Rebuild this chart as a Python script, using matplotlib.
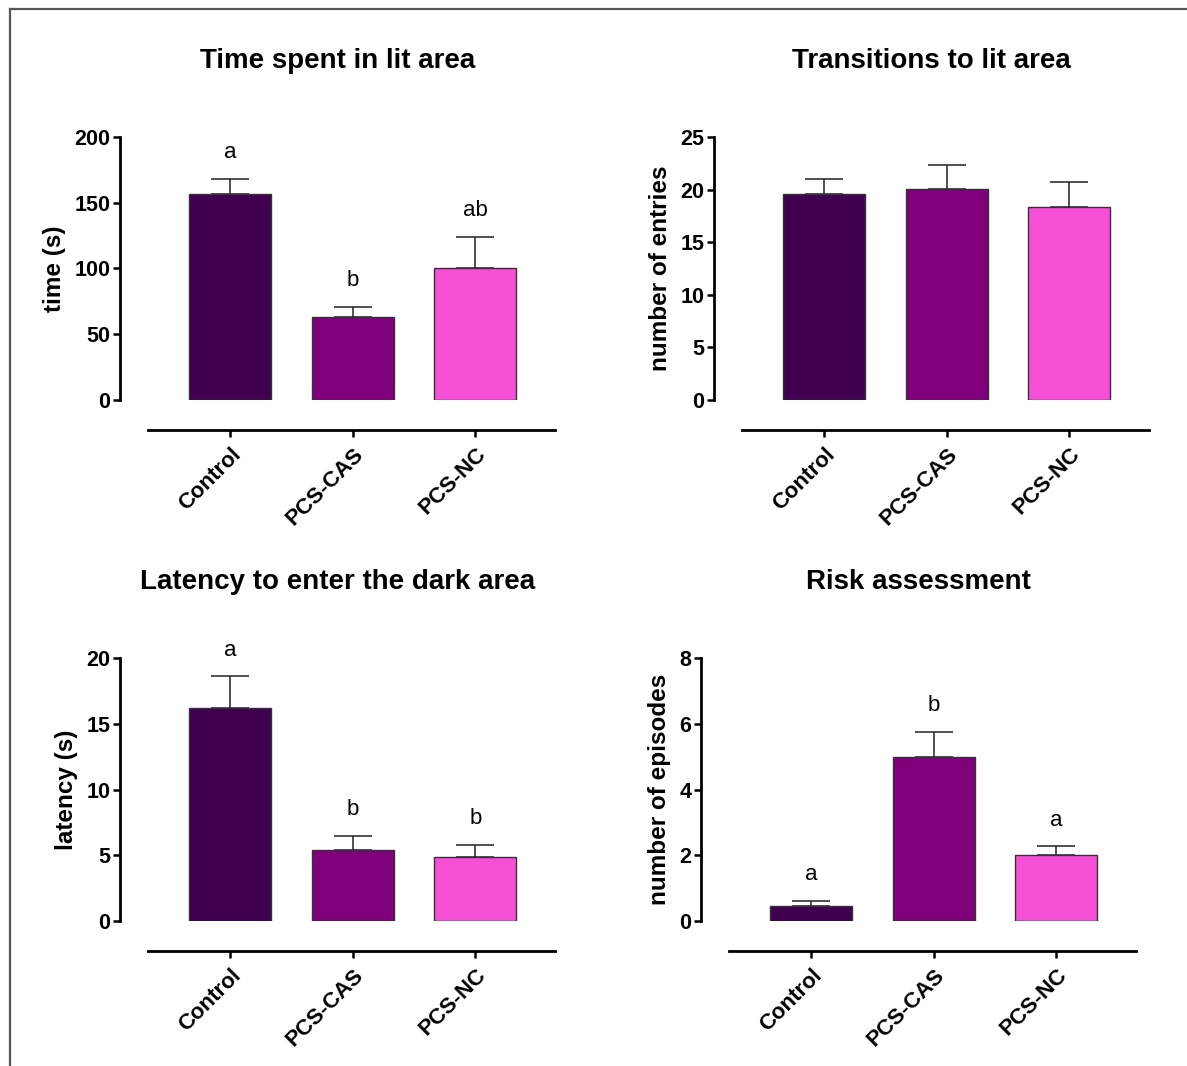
import matplotlib
matplotlib.use("Agg")
import matplotlib.pyplot as plt
from matplotlib.lines import Line2D

plt.rcParams['font.family'] = ['Liberation Sans', 'DejaVu Sans']

groups = ["Control", "PCS-CAS", "PCS-NC"]
colors = ["#3f0050", "#7f007a", "#f550d6"]

titles = ["Time spent in lit area", "Transitions to lit area",
          "Latency to enter the dark area", "Risk assessment"]
ylabels = ["time (s)", "number of entries", "latency (s)", "number of episodes"]

time_lit = [157, 63, 100]
time_lit_sem = [11, 8, 24]
time_lit_letters = ["a", "b", "ab"]

transitions = [19.6, 20.1, 18.3]
transitions_sem = [1.4, 2.2, 2.4]
transitions_letters = ["", "", ""]

latency = [16.2, 5.4, 4.85]
latency_sem = [2.4, 1.1, 0.95]
latency_letters = ["a", "b", "b"]

risk = [0.45, 5.0, 2.0]
risk_sem = [0.15, 0.75, 0.27]
risk_letters = ["a", "b", "a"]

ylims = [200, 25, 20, 8]
yticks = [[0, 50, 100, 150, 200], [0, 5, 10, 15, 20, 25],
          [0, 5, 10, 15, 20], [0, 2, 4, 6, 8]]
values = [time_lit, transitions, latency, risk]
sems = [time_lit_sem, transitions_sem, latency_sem, risk_sem]
letters = [time_lit_letters, transitions_letters, latency_letters, risk_letters]

W, H = 1187, 1066
fig = plt.figure(figsize=(W / 100, H / 100), dpi=100)

# panel layout in pixels: (left of y axis, top of y range, bottom of y range)
boxes = [(120, 137, 400), (714, 137, 400), (120, 658, 921), (701, 658, 921)]
step = 122.5
xmin, xmax = -0.9, 2.65
px2pt = 72 / 100

for i, (lx, ty, by) in enumerate(boxes):
    width_px = (xmax - xmin) * step
    ax = fig.add_axes([lx / W, 1 - by / H, width_px / W, (by - ty) / H])
    for sp in ["top", "right"]:
        ax.spines[sp].set_visible(False)
    ax.spines["left"].set_linewidth(2.0)
    ax.spines["bottom"].set_linewidth(2.0)
    ax.spines["bottom"].set_position(("outward", 30 * px2pt))
    ax.spines["bottom"].set_bounds(-0.67, xmax)

    x = list(range(len(groups)))
    ax.bar(x, values[i], width=0.67, color=colors, edgecolor="#333333",
           linewidth=1.0, zorder=2)
    ax.errorbar(x, values[i], yerr=[[0] * 3, sems[i]], fmt="none",
                ecolor="#222222", elinewidth=1.1, capsize=14, capthick=1.1,
                zorder=1)
    ymax = ylims[i]
    for xi, v, s, lab in zip(x, values[i], sems[i], letters[i]):
        if lab:
            ax.text(xi, v + s + ymax * 0.1, lab, ha="center", va="center",
                    fontsize=16)
    ax.set_xlim(xmin, xmax)
    ax.set_ylim(0, ymax)
    ax.tick_params(axis="y", length=5, width=1.8, pad=2)
    ax.tick_params(axis="x", length=5, width=1.8, pad=5)
    ax.set_yticks(yticks[i])
    ax.set_yticklabels([str(t) for t in yticks[i]], fontsize=15.5,
                       fontweight="bold")
    ax.set_xticks(x)
    ax.set_xticklabels(groups, rotation=45, ha="right", va="top",
                       rotation_mode="anchor", fontsize=16, fontweight="bold")
    ax.set_ylabel(ylabels[i], fontsize=17.5, fontweight="bold", labelpad=6)
    ax.set_title(titles[i], fontsize=20, fontweight="bold", pad=50)
    ax.patch.set_alpha(0)

# partial frame around figure (top and left edges)
fig.add_artist(Line2D([10 / W, 1], [1 - 9 / H, 1 - 9 / H], color="#555555", lw=1.6))
fig.add_artist(Line2D([10 / W, 10 / W], [0, 1 - 9 / H], color="#555555", lw=1.6))

fig.savefig("out.png", dpi=100)
